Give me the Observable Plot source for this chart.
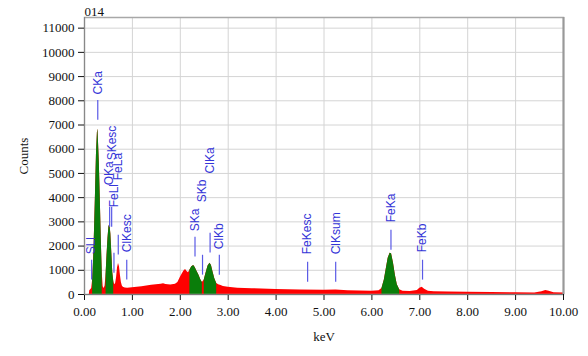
<!DOCTYPE html>
<html>
<head>
<meta charset="utf-8">
<script src="https://cdn.jsdelivr.net/npm/d3@7"></script>
<script src="https://cdn.jsdelivr.net/npm/@observablehq/plot@0.6"></script>
<style>
  html, body { margin: 0; padding: 0; background: #fff; }
  #chart svg { display: block; }
</style>
</head>
<body>
<div id="chart"></div>
<script>
// EDS spectrum of sample 014: energy (keV) and counts per channel
const energy = [
  0.10, 0.11, 0.13, 0.15, 0.17, 0.19, 0.21, 0.23, 0.25, 0.27, 0.28, 0.29, 0.31, 0.33, 0.35, 0.37,
  0.39, 0.41, 0.43, 0.45, 0.47, 0.49, 0.51, 0.53, 0.55, 0.57, 0.59, 0.61, 0.63, 0.65, 0.67, 0.69,
  0.71, 0.73, 0.75, 0.77, 0.79, 0.81, 0.85, 0.90, 1.00, 1.10, 1.20, 1.30, 1.40, 1.50, 1.60, 1.65,
  1.70, 1.80, 1.90, 1.95, 2.00, 2.04, 2.08, 2.11, 2.14, 2.17, 2.20, 2.24, 2.28, 2.31, 2.35, 2.39,
  2.43, 2.46, 2.50, 2.54, 2.58, 2.62, 2.65, 2.68, 2.72, 2.76, 2.80, 2.85, 2.90, 3.00, 3.20, 3.50,
  4.00, 4.50, 5.00, 5.25, 5.50, 6.00, 6.15, 6.21, 6.26, 6.30, 6.34, 6.38, 6.41, 6.45, 6.49, 6.53,
  6.58, 6.65, 6.80, 6.95, 7.00, 7.05, 7.10, 7.18, 7.30, 7.60, 8.00, 8.50, 9.00, 9.40, 9.55, 9.63,
  9.70, 9.80, 10.00
];
const counts = [
  0, 150, 200, 250, 600, 1400, 2700, 4200, 5800, 6700, 6830, 6400, 5400, 3900, 2300, 900,
  320, 250, 350, 800, 1600, 2300, 2800, 2900, 2500, 1700, 900, 550, 400, 450, 700, 1100,
  1280, 1150, 800, 500, 350, 300, 270, 260, 280, 300, 320, 350, 380, 400, 420, 440,
  410, 390, 420, 500, 700, 850, 980, 1030, 950, 900, 1000, 1150, 1200, 1120, 950, 800,
  600, 500, 600, 900, 1180, 1290, 1200, 950, 650, 450, 400, 370, 330, 300, 260, 240,
  210, 190, 180, 190, 160, 130, 150, 250, 600, 1050, 1500, 1700, 1680, 1300, 800, 400,
  200, 130, 120, 170, 260, 300, 220, 130, 110, 100, 90, 80, 70, 65, 110, 170,
  130, 70, 60
];

// Identified peak windows (keV) filled in green
const peakNames = ["CKa", "OKa", "SKa", "ClKa", "FeKa"];
const peakStart = [0.16, 0.44, 2.18, 2.50, 6.21];
const peakEnd   = [0.37, 0.61, 2.46, 2.76, 6.58];

// Line markers: element line, energy, top of marker and base of its label (counts)
const lineNames  = ["SLl", "CKa", "OKa", "FeLl", "SKesc", "FeLa", "ClKesc", "SKa", "SKb", "ClKa", "ClKb", "FeKesc", "ClKsum", "FeKa", "FeKb"];
const lineEnergy = [0.149, 0.277, 0.525, 0.615, 0.567, 0.705, 0.882, 2.307, 2.464, 2.622, 2.815, 4.658, 5.244, 6.398, 7.057];
const markerTop  = [1415, 8015, 3600, 1700, 3600, 2450, 1415, 2365, 1620, 2530, 1620, 1330, 1330, 2650, 1415];
const labelBase  = [1660, 8260, 4510, 3600, 5540, 4720, 1745, 2610, 3810, 5000, 1870, 1660, 1660, 2980, 1745];

// Axis ticks
const xTicks = d3.range(0, 11);
const yTicks = d3.range(0, 12000, 1000);

const spectrum = energy.map((e, i) => ({energy: e, counts: counts[i]}));
const peakRows = [];
peakNames.forEach((name, k) => {
  spectrum.forEach(d => {
    if (d.energy >= peakStart[k] && d.energy <= peakEnd[k]) peakRows.push({...d, peak: name});
  });
});
const markers = lineNames.map((name, i) => ({
  name, energy: lineEnergy[i], top: markerTop[i], bottom: markerTop[i] - 820, base: labelBase[i]
}));

const serif = "'Times New Roman', 'Liberation Serif', serif";
const sans = "Arial, 'Liberation Sans', sans-serif";
const blue = "#3535d8";

const chart = Plot.plot({
  width: 588,
  height: 356,
  marginLeft: 84,
  marginRight: 25,
  marginTop: 17,
  marginBottom: 62,
  style: {fontFamily: serif, background: "#fff", color: "#111"},
  x: {domain: [0, 10]},
  y: {domain: [0, 11440]},
  marks: [
    Plot.gridX(xTicks, {stroke: "#d4d4d4", strokeOpacity: 1}),
    Plot.gridY(yTicks, {stroke: "#d4d4d4", strokeOpacity: 1}),
    Plot.areaY(spectrum, {x: "energy", y: "counts", fill: "#ff0000"}),
    Plot.areaY(peakRows, {x: "energy", y: "counts", z: "peak", fill: "#0a7d0a"}),
    Plot.ruleX(markers, {x: "energy", y1: "bottom", y2: "top", stroke: "#5a5ae6", strokeWidth: 1.2}),
    Plot.text(markers, {x: "energy", y: "base", text: "name", rotate: -90, textAnchor: "start",
      fill: blue, fontSize: 12, fontFamily: sans}),
    Plot.frame({stroke: "#a8a8a8", strokeWidth: 1.5}),
    Plot.ruleX([10], {stroke: "#999", strokeWidth: 2}),
    Plot.axisX({ticks: xTicks, tickFormat: d3.format(".2f"), tickSize: 6, tickPadding: 6,
      fontSize: 13, label: "keV", labelAnchor: "center", labelArrow: false, labelOffset: 46}),
    Plot.axisY({ticks: yTicks, tickFormat: d => String(d), tickSize: 6, tickPadding: 4,
      fontSize: 13, label: "Counts", labelAnchor: "center", labelArrow: false, labelOffset: 66}),
    Plot.ruleY([0], {stroke: "#777"}),
    Plot.ruleX([0], {stroke: "#888"}),
    Plot.text(["014"], {frameAnchor: "top-left", dy: -2, lineAnchor: "bottom", textAnchor: "start",
      fontSize: 13, fontFamily: serif, fill: "#111"})
  ]
});
document.getElementById("chart").append(chart);
</script>
</body>
</html>
